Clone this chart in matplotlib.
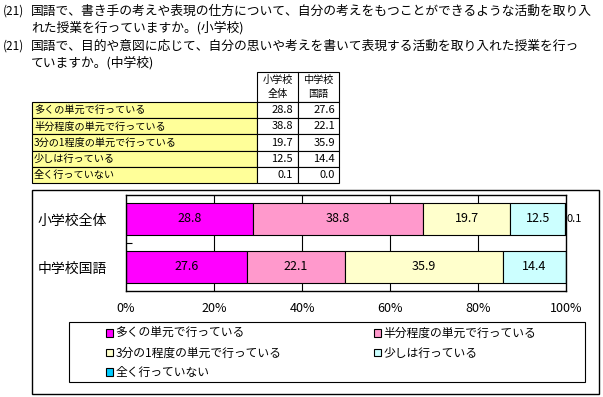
import matplotlib
matplotlib.use('Agg')
import matplotlib.pyplot as plt
import matplotlib.patches as patches

plt.rcParams['font.family'] = ['Noto Sans CJK JP', 'DejaVu Sans']

# data
title_lines = [
    ("(21)", "国語で、書き手の考えや表現の仕方について、自分の考えをもつことができるような活動を取り入"),
    ("", "れた授業を行っていますか。(小学校)"),
    ("(21)", "国語で、目的や意図に応じて、自分の思いや考えを書いて表現する活動を取り入れた授業を行っ"),
    ("", "ていますか。(中学校)"),
]
answers = ["多くの単元で行っている", "半分程度の単元で行っている", "3分の1程度の単元で行っている",
           "少しは行っている", "全く行っていない"]
groups = ["小学校全体", "中学校国語"]
table_headers = ["小学校\n全体", "中学校\n国語"]
elementary = [28.8, 38.8, 19.7, 12.5, 0.1]
junior_high = [27.6, 22.1, 35.9, 14.4, 0.0]
colors = ["#FF00FF", "#FF99CC", "#FFFFCC", "#CCFFFF", "#00CCFF"]
xticks = [0, 20, 40, 60, 80, 100]

W, H = 603, 397
fig = plt.figure(figsize=(W / 100, H / 100), dpi=100)

# overlay in pixel coords for the text, table and frames
ov = fig.add_axes([0, 0, 1, 1], zorder=0)
ov.set_xlim(0, W)
ov.set_ylim(H, 0)
ov.axis('off')

# title
ys = [11, 28, 46, 63]
for (num, txt), y in zip(title_lines, ys):
    if num:
        ov.text(3, y, num, fontsize=8.5, va='center', ha='left')
    ov.text(31, y, txt, fontsize=9.2, va='center', ha='left')

# table
tx0, tx1, tx2, tx3 = 32, 257, 298, 339
ty_head, ty_top = 72, 102
row_h = 16.2
ov.add_patch(patches.Rectangle((tx1, ty_head), tx3 - tx1, ty_top - ty_head, fc='white', ec='black', lw=0.8))
ov.plot([tx2, tx2], [ty_head, ty_top], color='black', lw=0.8)
for j, hdr in enumerate(table_headers):
    cx = (tx1 + tx2) / 2 if j == 0 else (tx2 + tx3) / 2
    ov.text(cx, (ty_head + ty_top) / 2, hdr, fontsize=7.3, ha='center', va='center', linespacing=1.5)
for i, ans in enumerate(answers):
    y0 = ty_top + i * row_h
    ov.add_patch(patches.Rectangle((tx0, y0), tx1 - tx0, row_h, fc='#FFFF99', ec='black', lw=0.8))
    ov.add_patch(patches.Rectangle((tx1, y0), tx2 - tx1, row_h, fc='white', ec='black', lw=0.8))
    ov.add_patch(patches.Rectangle((tx2, y0), tx3 - tx2, row_h, fc='white', ec='black', lw=0.8))
    ov.text(tx0 + 2, y0 + row_h / 2, ans, fontsize=7.3, ha='left', va='center')
    ov.text(tx2 - 5, y0 + row_h / 2, f"{elementary[i]:.1f}", fontsize=8, ha='right', va='center')
    ov.text(tx3 - 4, y0 + row_h / 2, f"{junior_high[i]:.1f}", fontsize=8, ha='right', va='center')

# outer chart frame and legend box
ov.add_patch(patches.Rectangle((32, 190), 599 - 32, 394 - 190, fc='none', ec='black', lw=1))
ov.add_patch(patches.Rectangle((69, 322), 585 - 69, 382 - 322, fc='none', ec='black', lw=0.8))

# bar chart
px0, px1, py0, py1 = 126, 566, 195, 291
ax = fig.add_axes([px0 / W, 1 - py1 / H, (px1 - px0) / W, (py1 - py0) / H], zorder=1)
ax.set_xlim(0, 100)
ax.set_ylim(1.5, -0.5)
data = [elementary, junior_high]
left = [0, 0]
for k in range(len(answers)):
    vals = [d[k] for d in data]
    bars = ax.barh(range(len(groups)), vals, left=left, height=2 / 3, color=colors[k],
                   edgecolor='black', linewidth=0.8, zorder=2, label=answers[k])
    for gi, (b, v) in enumerate(zip(bars, vals)):
        if v >= 5:
            ax.text(left[gi] + v / 2, gi, f"{v:.1f}", ha='center', va='center', fontsize=9, zorder=3)
        elif v > 0:
            ax.text(left[gi] + v + 0.3, gi, f"{v:.1f}", ha='left', va='center', fontsize=8, zorder=3)
    left = [l + v for l, v in zip(left, vals)]

for xv in xticks[1:-1]:
    ax.axvline(xv, color='black', lw=0.8, zorder=1)
ax.set_xticks(xticks)
ax.set_xticklabels([f"{v}%" for v in xticks], fontsize=9)
ax.tick_params(axis='x', length=0, pad=8)
ax.set_yticks(range(len(groups)))
ax.set_yticklabels(groups, fontsize=10)
ax.tick_params(axis='y', length=0, pad=14)
ax.set_yticks([0.5], minor=True)
ax.tick_params(axis='y', which='minor', direction='in', length=4, width=0.8)
for s in ax.spines.values():
    s.set_color('black')
    s.set_linewidth(1)

# legend (Excel order, row-wise)
handles = [patches.Rectangle((0, 0), 1, 1, fc=c, ec='black', lw=0.8) for c in colors]
order = [0, 2, 4, 1, 3]
fig.legend([handles[i] for i in order], [answers[i] for i in order], ncol=2,
           loc='upper left', bbox_to_anchor=(106 / W, 1 - 331 / H, (536 - 106) / W, 0.01),
           mode='expand', frameon=False, fontsize=8.5, borderpad=0, borderaxespad=0,
           handlelength=0.6, handleheight=0.6, handletextpad=0.2, labelspacing=0.55)

fig.savefig('out.png', dpi=100)
